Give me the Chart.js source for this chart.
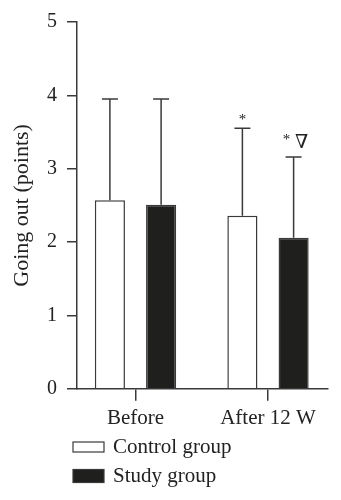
<!DOCTYPE html>
<html>
<head>
<meta charset="utf-8">
<script src="https://cdn.jsdelivr.net/npm/chart.js@4"></script>
<style>
  html, body { margin: 0; padding: 0; background: #fff; }
  #wrap { width: 341px; height: 500px; }
</style>
</head>
<body>
<div id="wrap"><canvas id="chart" width="341" height="500"></canvas></div>
<script>
// datos
const categories = ["Before", "After 12 W"];
const controlMean = [2.57, 2.36];
const controlSD = [1.38, 1.19];
const studyMean = [2.51, 2.06];
const studySD = [1.44, 1.10];
const controlMarks = ["", "*"];
const studyMarks = ["", "* \u2207"];
const yTicks = [0, 1, 2, 3, 4, 5];

const LINE = "#3a3a3a";
const FONT = "'Liberation Serif', 'DejaVu Serif', serif";

// barras de error (solo hacia arriba) + marcas de significancia
const errorBars = {
  id: "errorBars",
  afterDatasetsDraw(chart) {
    const ctx = chart.ctx;
    const y = chart.scales.y;
    chart.data.datasets.forEach((ds, di) => {
      const meta = chart.getDatasetMeta(di);
      meta.data.forEach((bar, i) => {
        const top = y.getPixelForValue(ds.data[i].y + ds.sd[i]);
        ctx.save();
        ctx.strokeStyle = LINE;
        ctx.lineWidth = 1.5;
        ctx.beginPath();
        ctx.moveTo(bar.x, bar.y);
        ctx.lineTo(bar.x, top);
        ctx.moveTo(bar.x - 8, top);
        ctx.lineTo(bar.x + 8, top);
        ctx.stroke();
        const mark = ds.marks[i];
        if (mark) {
          ctx.fillStyle = "#222";
          ctx.textBaseline = "middle";
          ctx.textAlign = "center";
          if (mark === "*") {
            ctx.font = "15px " + FONT;
            ctx.fillText("*", bar.x, top - 8);
          } else {
            ctx.font = "15px " + FONT;
            ctx.fillText("*", bar.x - 7, top - 17);
            ctx.font = "19px " + FONT;
            ctx.fillText("\u2207", bar.x + 8, top - 14);
          }
        }
        ctx.restore();
      });
    });
  }
};

// leyenda vertical debajo del eje
const stackedLegend = {
  id: "stackedLegend",
  afterDraw(chart) {
    const ctx = chart.ctx;
    const rows = [447, 476];
    const heights = [10, 13];
    chart.data.datasets.forEach((ds, i) => {
      const cy = rows[i];
      const h = heights[i];
      ctx.save();
      ctx.fillStyle = ds.backgroundColor;
      ctx.fillRect(73, cy - h / 2, 31, h);
      ctx.strokeStyle = LINE;
      ctx.lineWidth = 1.2;
      ctx.strokeRect(73, cy - h / 2, 31, h);
      ctx.fillStyle = "#222";
      ctx.font = "21px " + FONT;
      ctx.textBaseline = "middle";
      ctx.textAlign = "left";
      ctx.fillText(ds.label, 113, cy);
      ctx.restore();
    });
  }
};

new Chart(document.getElementById("chart"), {
  type: "bar",
  data: {
    datasets: [
      {
        label: "Control group",
        data: controlMean.map((v, i) => ({ x: i + 1, y: v })),
        sd: controlSD,
        marks: controlMarks,
        backgroundColor: "#ffffff",
        borderColor: LINE,
        borderWidth: 1.5,
        borderSkipped: "start"
      },
      {
        label: "Study group",
        data: studyMean.map((v, i) => ({ x: i + 1, y: v })),
        sd: studySD,
        marks: studyMarks,
        backgroundColor: "#1f1f1d",
        borderColor: LINE,
        borderWidth: 1.5,
        borderSkipped: "start"
      }
    ]
  },
  options: {
    responsive: false,
    animation: false,
    categoryPercentage: 0.773,
    barPercentage: 0.588,
    layout: { padding: { left: 0, right: 13, top: 20, bottom: 64 } },
    plugins: {
      legend: { display: false },
      tooltip: { enabled: false }
    },
    scales: {
      x: {
        type: "linear",
        offset: false,
        min: 0.5585,
        max: 2.4528,
        afterBuildTicks: axis => {
          axis.ticks = categories.map((c, i) => ({ value: i + 1 }));
        },
        ticks: {
          callback: v => categories[v - 1],
          color: "#222",
          font: { family: FONT, size: 21 },
          padding: 5,
          maxRotation: 0
        },
        grid: { offset: false, drawOnChartArea: false, drawTicks: true, tickLength: 12, color: LINE, lineWidth: 1.5 },
        border: { display: true, color: LINE, width: 1.5 }
      },
      y: {
        min: 0,
        max: 5,
        afterFit: s => { s.width = 77; },
        afterBuildTicks: axis => {
          axis.ticks = yTicks.map(v => ({ value: v }));
        },
        ticks: {
          color: "#222",
          font: { family: FONT, size: 20 },
          padding: 10
        },
        grid: { drawOnChartArea: false, drawTicks: true, tickLength: 10, color: LINE, lineWidth: 1.5 },
        border: { display: true, color: LINE, width: 1.5 },
        title: {
          display: true,
          text: "Going out (points)",
          color: "#222",
          font: { family: FONT, size: 22 },
          padding: { top: 9, bottom: 0 }
        }
      }
    }
  },
  plugins: [errorBars, stackedLegend]
});
</script>
</body>
</html>
